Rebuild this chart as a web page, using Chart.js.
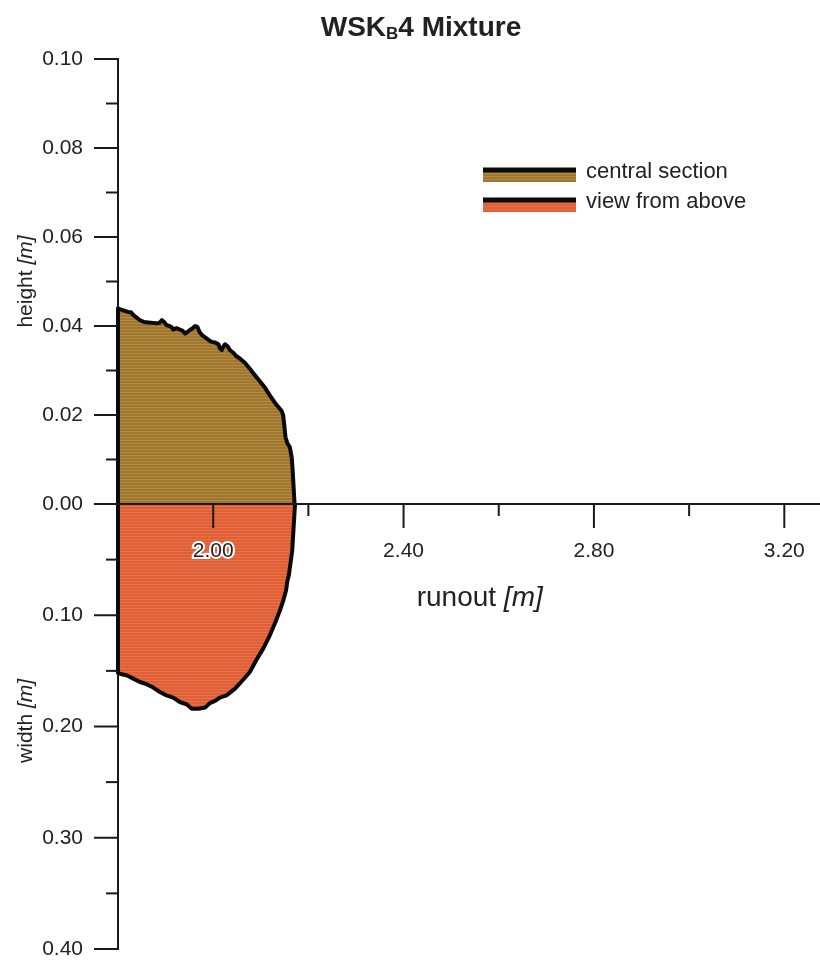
<!DOCTYPE html>
<html>
<head>
<meta charset="utf-8">
<title>WSKB4 Mixture</title>
<script src="https://cdn.jsdelivr.net/npm/chart.js@4.4.1/dist/chart.umd.min.js"></script>
<style>
  html, body { margin: 0; padding: 0; background: #fff; }
  #contenedor { width: 820px; height: 962px; }
</style>
</head>
<body>
<div id="contenedor"><canvas id="grafica" width="820" height="962"></canvas></div>
<script>
// Corte central: alcance [m] y altura [m]
var seccionX = [1.800, 1.800, 1.808, 1.815, 1.822, 1.827, 1.832, 1.839, 1.846, 1.855, 1.864, 1.873, 1.881,
    1.887, 1.892, 1.897, 1.902, 1.908, 1.913, 1.916, 1.923, 1.930, 1.936, 1.941, 1.946, 1.951, 1.957,
    1.962, 1.967, 1.971, 1.976, 1.981, 1.986, 1.992, 1.998, 2.004, 2.011, 2.014, 2.018, 2.021, 2.025,
    2.030, 2.035, 2.042, 2.049, 2.056, 2.067, 2.077, 2.088, 2.098, 2.109, 2.119, 2.130, 2.137, 2.144,
    2.147, 2.149, 2.152, 2.156, 2.161, 2.165, 2.167, 2.169, 2.171];
var seccionH = [0.0000, 0.0440, 0.0436, 0.0434, 0.0431, 0.0431, 0.0425, 0.0419, 0.0413, 0.0409, 0.0408, 0.0407, 0.0406,
    0.0407, 0.0413, 0.0409, 0.0402, 0.0400, 0.0397, 0.0392, 0.0395, 0.0392, 0.0389, 0.0383, 0.0387, 0.0391, 0.0395,
    0.0400, 0.0398, 0.0387, 0.0380, 0.0376, 0.0372, 0.0367, 0.0364, 0.0363, 0.0359, 0.0350, 0.0346, 0.0353, 0.0359,
    0.0355, 0.0346, 0.0340, 0.0332, 0.0327, 0.0317, 0.0304, 0.0289, 0.0276, 0.0261, 0.0244, 0.0227, 0.0218, 0.0209,
    0.0199, 0.0181, 0.0150, 0.0136, 0.0128, 0.0105, 0.0075, 0.0038, 0.0000];

// Vista desde arriba: alcance [m] y ancho [m]
var vistaX = [2.172, 2.166, 2.159, 2.156, 2.153, 2.147, 2.140, 2.130, 2.119, 2.105, 2.091, 2.077, 2.063,
    2.046, 2.028, 2.014, 2.004, 1.993, 1.983, 1.969, 1.955, 1.944, 1.930, 1.916, 1.902, 1.888, 1.874,
    1.860, 1.846, 1.832, 1.818, 1.808, 1.800, 1.800];
var vistaW = [0.000, 0.042, 0.064, 0.069, 0.078, 0.087, 0.096, 0.107, 0.118, 0.130, 0.140, 0.151, 0.158,
    0.166, 0.172, 0.174, 0.177, 0.179, 0.183, 0.184, 0.184, 0.180, 0.178, 0.174, 0.172, 0.169, 0.165,
    0.162, 0.160, 0.157, 0.154, 0.153, 0.152, 0.000];

var ticksRunout = [2.00, 2.40, 2.80, 3.20];
var ticksRunoutMenores = [2.20, 2.60, 3.00];
var ticksAltura = [0.00, 0.02, 0.04, 0.06, 0.08, 0.10];
var ticksAlturaMenores = [0.01, 0.03, 0.05, 0.07, 0.09];
var ticksAncho = [0.10, 0.20, 0.30, 0.40];
var ticksAnchoMenores = [0.05, 0.15, 0.25, 0.35];

var fuente = "'Liberation Sans', Arial, sans-serif";
var colorTexto = '#222222';
var colorEje = '#1a1a1a';

// relleno rayado horizontal
function crearTrama(base, raya) {
    var c = document.createElement('canvas');
    c.width = 4;
    c.height = 3;
    var g = c.getContext('2d');
    g.fillStyle = base;
    g.fillRect(0, 0, 4, 3);
    g.fillStyle = raya;
    g.fillRect(0, 2, 4, 1);
    return g.createPattern(c, 'repeat');
}

function puntos(xs, ys) {
    return xs.map(function (x, i) { return { x: x, y: ys[i] }; });
}

// texto con partes en cursiva, centrado en (0,0) del contexto actual
function textoMixto(ctx, partes, size) {
    var total = 0;
    partes.forEach(function (p) {
        ctx.font = (p.italic ? 'italic ' : '') + size + 'px ' + fuente;
        p.w = ctx.measureText(p.t).width;
        total += p.w;
    });
    var x = -total / 2;
    ctx.textAlign = 'left';
    partes.forEach(function (p) {
        ctx.font = (p.italic ? 'italic ' : '') + size + 'px ' + fuente;
        ctx.fillText(p.t, x, 0);
        x += p.w;
    });
}

function linea(ctx, x1, y1, x2, y2) {
    ctx.beginPath();
    ctx.moveTo(x1, y1);
    ctx.lineTo(x2, y2);
    ctx.stroke();
}

// sin margen extra por las etiquetas de los extremos
function sinRelleno(s) {
    s.paddingTop = 0;
    s.paddingBottom = 0;
    s.paddingLeft = 0;
    s.paddingRight = 0;
}

var extras = {
    id: 'extras',
    afterDraw: function (chart) {
        var ctx = chart.ctx;
        var sx = chart.scales.x, sy = chart.scales.y, sw = chart.scales.yAncho;
        var y0 = sy.getPixelForValue(0);
        var x0 = chart.chartArea.left;

        ctx.save();
        ctx.strokeStyle = colorEje;
        ctx.lineWidth = 2;
        // marcas del eje x (hacia abajo)
        ticksRunout.forEach(function (v) { var p = sx.getPixelForValue(v); linea(ctx, p, y0, p, y0 + 24); });
        ticksRunoutMenores.forEach(function (v) { var p = sx.getPixelForValue(v); linea(ctx, p, y0, p, y0 + 12); });
        // marcas del eje y (hacia la izquierda)
        ticksAltura.forEach(function (v) { var p = sy.getPixelForValue(v); linea(ctx, x0, p, x0 - 24, p); });
        ticksAlturaMenores.forEach(function (v) { var p = sy.getPixelForValue(v); linea(ctx, x0, p, x0 - 12, p); });
        ticksAncho.forEach(function (v) { var p = sw.getPixelForValue(v); linea(ctx, x0, p, x0 - 24, p); });
        ticksAnchoMenores.forEach(function (v) { var p = sw.getPixelForValue(v); linea(ctx, x0, p, x0 - 12, p); });

        // titulo con subindice
        ctx.fillStyle = colorTexto;
        ctx.textBaseline = 'alphabetic';
        ctx.textAlign = 'left';
        var fG = 'bold 28px ' + fuente, fS = 'bold 17px ' + fuente;
        ctx.font = fG; var w1 = ctx.measureText('WSK').width; var w3 = ctx.measureText('4 Mixture').width;
        ctx.font = fS; var w2 = ctx.measureText('B').width;
        var tx = 421 - (w1 + w2 + w3) / 2;
        ctx.font = fG; ctx.fillText('WSK', tx, 36);
        ctx.font = fS; ctx.fillText('B', tx + w1, 39);
        ctx.font = fG; ctx.fillText('4 Mixture', tx + w1 + w2, 36);

        // titulos de ejes
        ctx.save();
        ctx.translate(sx.getPixelForValue(2.56), 606);
        textoMixto(ctx, [{ t: 'runout ', italic: false }, { t: '[m]', italic: true }], 28);
        ctx.restore();

        ctx.save();
        ctx.translate(32, sy.getPixelForValue(0.05));
        ctx.rotate(-Math.PI / 2);
        textoMixto(ctx, [{ t: 'height ', italic: false }, { t: '[m]', italic: true }], 21);
        ctx.restore();

        ctx.save();
        ctx.translate(32, sw.getPixelForValue(0.195));
        ctx.rotate(-Math.PI / 2);
        textoMixto(ctx, [{ t: 'width ', italic: false }, { t: '[m]', italic: true }], 21);
        ctx.restore();

        // leyenda: borde negro sobre la banda de relleno
        chart.data.datasets.forEach(function (ds, i) {
            var y = 170 + i * 30;
            ctx.fillStyle = ds.backgroundColor;
            ctx.fillRect(483, y + 1, 93, 11);
            ctx.strokeStyle = '#0a0a0a';
            ctx.lineWidth = 5;
            linea(ctx, 483, y, 576, y);
            ctx.fillStyle = colorTexto;
            ctx.font = '22px ' + fuente;
            ctx.textAlign = 'left';
            ctx.fillText(ds.label, 586, y + 8);
        });
        ctx.restore();
    }
};

var ctx = document.getElementById('grafica').getContext('2d');
var tramaCafe = crearTrama('#a0772f', '#b28a44');
var tramaNaranja = crearTrama('#df5f37', '#e87149');

var ejeComun = {
    type: 'linear',
    position: 'left',
    stack: 'izquierda',
    stackWeight: 1,
    grid: { display: true, drawOnChartArea: false, drawTicks: false },
    border: { display: true, color: colorEje, width: 2 },
    afterFit: function (s) { s.width = 118; sinRelleno(s); },
    ticks: {
        padding: 35,
        color: colorTexto,
        font: { family: fuente, size: 21 },
        callback: function (v) { return v.toFixed(2); }
    }
};

var myChart = new Chart(ctx, {
    type: 'line',
    data: {
        datasets: [{
            label: 'central section',
            data: puntos(seccionX, seccionH),
            yAxisID: 'y',
            borderColor: '#0a0a0a',
            borderWidth: 4,
            borderJoinStyle: 'round',
            backgroundColor: tramaCafe,
            fill: 'origin',
            pointRadius: 0,
            tension: 0,
            clip: false
        }, {
            label: 'view from above',
            data: puntos(vistaX, vistaW),
            yAxisID: 'yAncho',
            borderColor: '#0a0a0a',
            borderWidth: 4,
            borderJoinStyle: 'round',
            backgroundColor: tramaNaranja,
            fill: 'origin',
            pointRadius: 0,
            tension: 0,
            clip: false
        }]
    },
    options: {
        responsive: false,
        animation: false,
        layout: { padding: { top: 59, bottom: 13, left: 0, right: 0 } },
        plugins: { legend: { display: false }, tooltip: { enabled: false }, title: { display: false } },
        scales: {
            x: {
                type: 'linear',
                min: 1.80,
                max: 3.275,
                position: { y: 0 },
                grid: { display: true, drawOnChartArea: false, drawTicks: false },
                border: { display: true, color: colorEje, width: 2, z: 1 },
                afterBuildTicks: function (s) { s.ticks = ticksRunout.map(function (v) { return { value: v }; }); },
                afterFit: sinRelleno,
                ticks: {
                    z: 1,
                    autoSkip: false,
                    maxRotation: 0,
                    padding: 35,
                    color: colorTexto,
                    font: { family: fuente, size: 21 },
                    textStrokeColor: '#ffffff',
                    textStrokeWidth: 4,
                    callback: function (v) { return v.toFixed(2); }
                }
            },
            y: Object.assign({}, ejeComun, {
                min: 0,
                max: 0.10,
                weight: 2,
                afterBuildTicks: function (s) { s.ticks = ticksAltura.map(function (v) { return { value: v }; }); }
            }),
            yAncho: Object.assign({}, ejeComun, {
                min: 0,
                max: 0.40,
                reverse: true,
                weight: 1,
                afterBuildTicks: function (s) { s.ticks = ticksAncho.map(function (v) { return { value: v }; }); }
            })
        }
    },
    plugins: [extras]
});
</script>
</body>
</html>
